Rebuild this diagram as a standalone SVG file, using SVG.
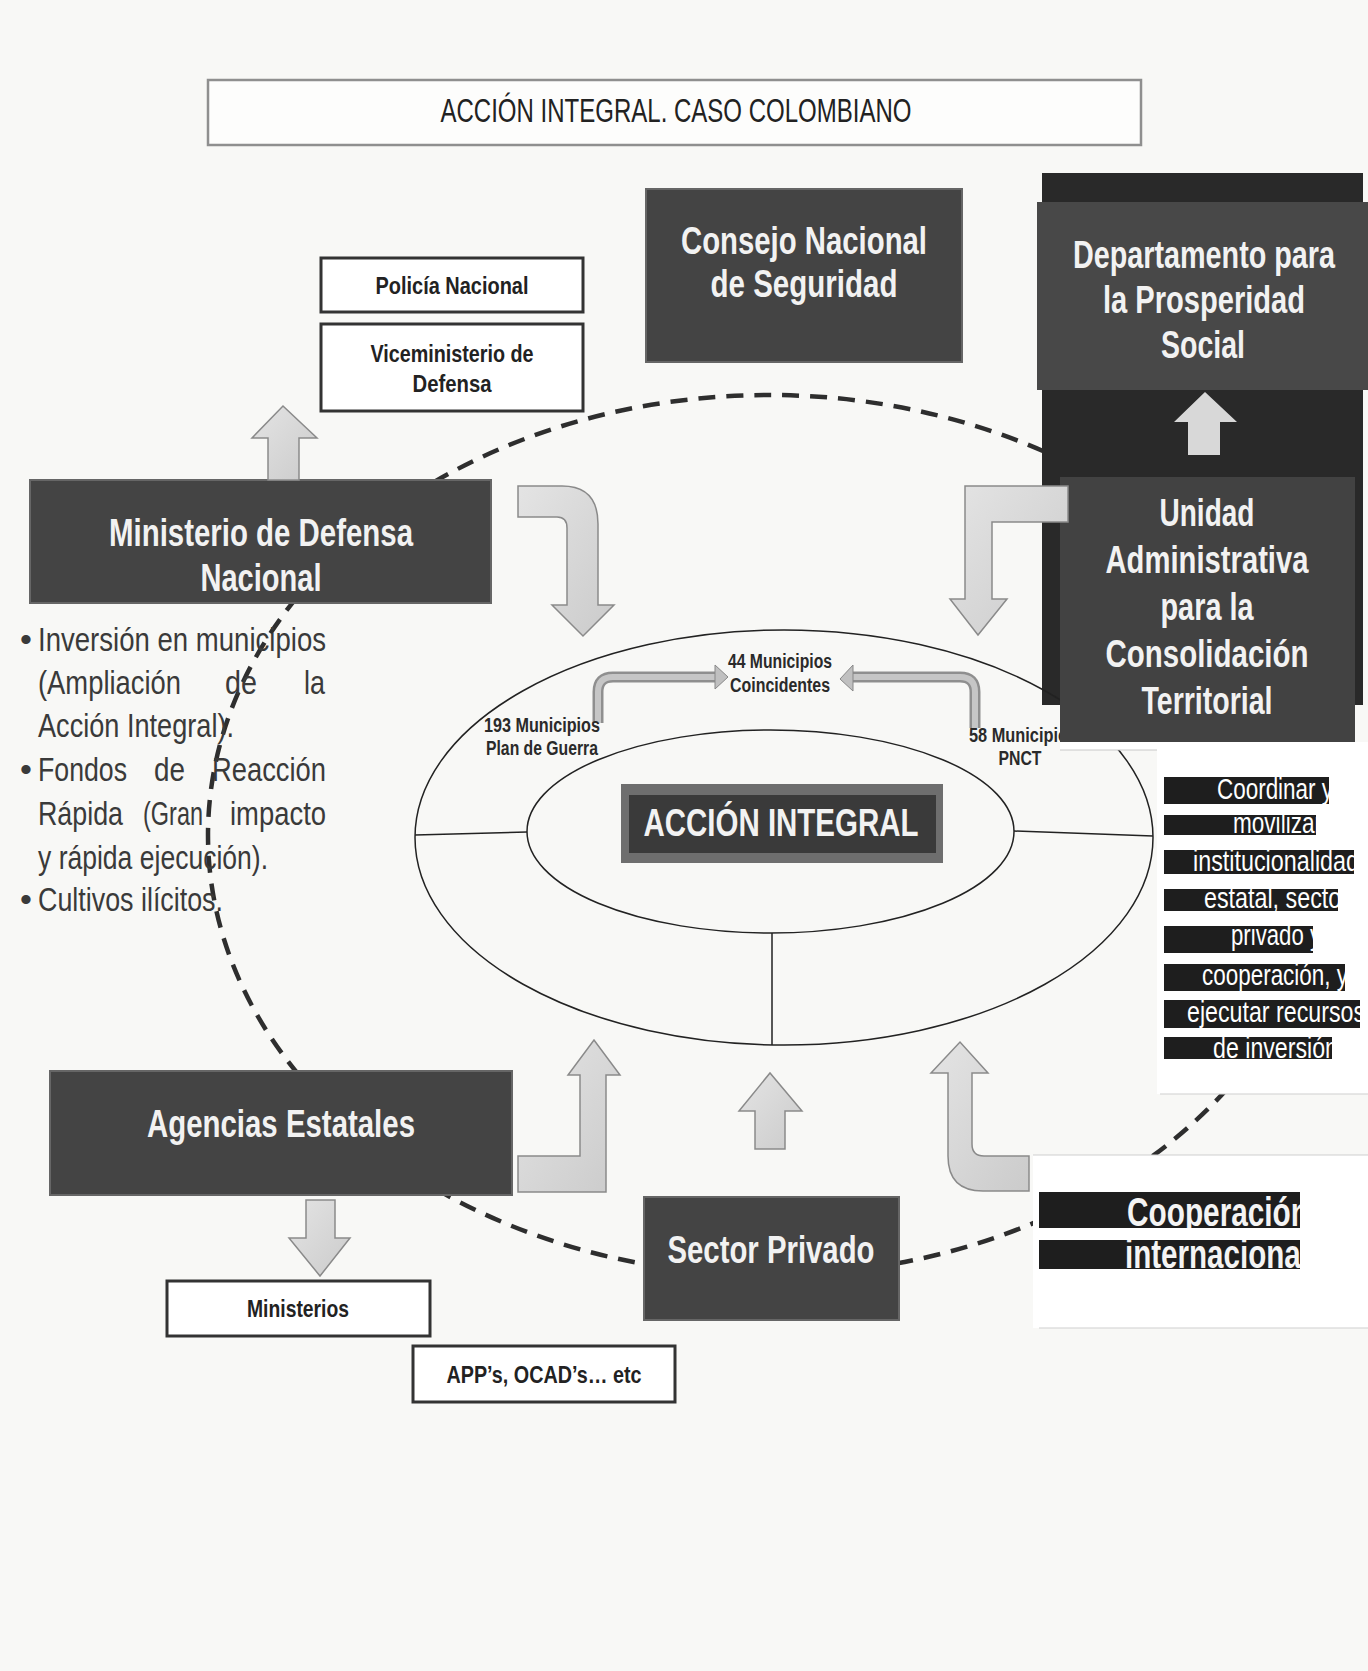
<svg xmlns="http://www.w3.org/2000/svg" width="1368" height="1671" viewBox="0 0 1368 1671">
<defs>
<style>
.f{font-family:"Liberation Sans Narrow","Liberation Sans",Arial,sans-serif}
.big{font-weight:bold;font-size:38px;fill:#f2f2f2;text-anchor:middle}
.lbl{font-weight:bold;font-size:24px;fill:#222;text-anchor:middle}
.sm{font-weight:bold;font-size:20px;fill:#2a2a2a;text-anchor:middle}
.body{font-size:34px;fill:#3a3a3a}
.wt{font-size:30px;fill:#ffffff}
.co{font-weight:bold;font-size:40px;fill:#f4f4f4}
.dk{fill:#444444;stroke:#666;stroke-width:2}
.wbox{fill:#ffffff;stroke:#333;stroke-width:3}
.ba{fill:url(#ag);stroke:#8a8a8a;stroke-width:1.5}
.bar{fill:#1e1e1e}
.thin{fill:none;stroke:#222;stroke-width:1.5}
</style>
<linearGradient id="ag" x1="0" y1="0" x2="1" y2="1">
<stop offset="0" stop-color="#e4e4e4"/>
<stop offset="1" stop-color="#cbcbcb"/>
</linearGradient>
<clipPath id="c1"><rect x="1164" y="777" width="165" height="27"/></clipPath>
<clipPath id="c2"><rect x="1164" y="815" width="152" height="20"/></clipPath>
<clipPath id="c3"><rect x="1164" y="850" width="190" height="24"/></clipPath>
<clipPath id="c4"><rect x="1164" y="889" width="174" height="22"/></clipPath>
<clipPath id="c5"><rect x="1164" y="926" width="149" height="27"/></clipPath>
<clipPath id="c6"><rect x="1164" y="964" width="181" height="27"/></clipPath>
<clipPath id="c7"><rect x="1164" y="1000" width="196" height="28"/></clipPath>
<clipPath id="c8"><rect x="1164" y="1037" width="168" height="22"/></clipPath>
<clipPath id="k1"><rect x="1039" y="1192" width="261" height="36"/></clipPath>
<clipPath id="k2"><rect x="1039" y="1240" width="261" height="29"/></clipPath>
</defs>

<rect x="0" y="0" width="1368" height="1671" fill="#f8f8f6"/>

<g id="connectors">
<ellipse id="loop" cx="769" cy="835" rx="561" ry="440" fill="none" stroke="#2e2e2e" stroke-width="4.5" stroke-dasharray="17 11"/>
</g>

<g id="dps-frame">
<rect x="1042" y="173" width="321" height="532" fill="#292929"/>
</g>

<g id="accion-integral">
<ellipse cx="784" cy="837.5" rx="369" ry="207.5" class="thin"/>
<ellipse cx="770.5" cy="831.5" rx="243.5" ry="101.5" class="thin"/>
<line x1="415" y1="835" x2="527" y2="832" class="thin"/>
<line x1="1014" y1="831" x2="1153" y2="836" class="thin"/>
<line x1="772" y1="933" x2="772" y2="1045" class="thin"/>
<rect x="621" y="784" width="322" height="79" fill="#6e6e6e"/>
<rect x="629" y="795" width="307" height="58" fill="#3a3a3a"/>
<text class="f big" x="781" y="836" textLength="275" lengthAdjust="spacingAndGlyphs">ACCIÓN INTEGRAL</text>
</g>

<g id="tubes">
<path d="M598,723 V692 Q598,677 613,677 H718" fill="none" stroke="#8f8f8f" stroke-width="11"/>
<path d="M598,723 V692 Q598,677 613,677 H718" fill="none" stroke="#c6c6c6" stroke-width="6"/>
<polygon points="715,665 728,677 715,689" fill="#c0c0c0" stroke="#888" stroke-width="1"/>
<path d="M975,728 V692 Q975,677 960,677 H852" fill="none" stroke="#8f8f8f" stroke-width="11"/>
<path d="M975,728 V692 Q975,677 960,677 H852" fill="none" stroke="#c6c6c6" stroke-width="6"/>
<polygon points="853,665 840,679 853,691" fill="#c0c0c0" stroke="#888" stroke-width="1"/>
</g>

<g id="lbl-44">
<text class="f sm" x="780" y="668" textLength="104" lengthAdjust="spacingAndGlyphs">44 Municipios</text>
<text class="f sm" x="780" y="692" textLength="100" lengthAdjust="spacingAndGlyphs">Coincidentes</text>
</g>
<g id="lbl-193">
<text class="f sm" x="542" y="732" textLength="116" lengthAdjust="spacingAndGlyphs">193 Municipios</text>
<text class="f sm" x="542" y="755" textLength="112" lengthAdjust="spacingAndGlyphs">Plan de Guerra</text>
</g>
<g id="lbl-58">
<text class="f sm" x="969" y="742" style="text-anchor:start" textLength="108" lengthAdjust="spacingAndGlyphs">58 Municipios</text>
<text class="f sm" x="1020" y="765" textLength="43" lengthAdjust="spacingAndGlyphs">PNCT</text>
</g>

<g id="title">
<rect x="208" y="80" width="933" height="65" fill="#fdfdfc" stroke="#8f8f8f" stroke-width="2.5"/>
<text class="f" x="676" y="122" font-size="33" fill="#222" text-anchor="middle" textLength="471" lengthAdjust="spacingAndGlyphs">ACCIÓN INTEGRAL. CASO COLOMBIANO</text>
</g>

<g id="consejo">
<rect x="646" y="189" width="316" height="173" class="dk"/>
<text class="f big" x="804" y="254" textLength="246" lengthAdjust="spacingAndGlyphs">Consejo Nacional</text>
<text class="f big" x="804" y="297" textLength="187" lengthAdjust="spacingAndGlyphs">de Seguridad</text>
</g>

<g id="dps">
<rect x="1037" y="202" width="331" height="188" fill="#484848"/>
<text class="f big" x="1204" y="268" textLength="262" lengthAdjust="spacingAndGlyphs">Departamento para</text>
<text class="f big" x="1204" y="313" textLength="202" lengthAdjust="spacingAndGlyphs">la Prosperidad</text>
<text class="f big" x="1203" y="358" textLength="84" lengthAdjust="spacingAndGlyphs">Social</text>
</g>

<g id="unidad">
<rect x="1060" y="477" width="295" height="265" fill="#424242"/>
<text class="f big" x="1207" y="526" textLength="95" lengthAdjust="spacingAndGlyphs">Unidad</text>
<text class="f big" x="1207" y="573" textLength="203" lengthAdjust="spacingAndGlyphs">Administrativa</text>
<text class="f big" x="1207" y="620" textLength="93" lengthAdjust="spacingAndGlyphs">para la</text>
<text class="f big" x="1207" y="667" textLength="203" lengthAdjust="spacingAndGlyphs">Consolidación</text>
<text class="f big" x="1207" y="714" textLength="131" lengthAdjust="spacingAndGlyphs">Territorial</text>
</g>

<g id="policia">
<rect x="321" y="258" width="262" height="54" class="wbox"/>
<text class="f lbl" x="452" y="294" textLength="153" lengthAdjust="spacingAndGlyphs">Policía Nacional</text>
</g>

<g id="viceministerio">
<rect x="321" y="324" width="262" height="87" class="wbox"/>
<text class="f lbl" x="452" y="362" textLength="163" lengthAdjust="spacingAndGlyphs">Viceministerio de</text>
<text class="f lbl" x="452" y="392" textLength="79" lengthAdjust="spacingAndGlyphs">Defensa</text>
</g>

<g id="ministerio-defensa">
<rect x="30" y="480" width="461" height="123" class="dk"/>
<text class="f big" x="261" y="546" textLength="304" lengthAdjust="spacingAndGlyphs">Ministerio de Defensa</text>
<text class="f big" x="261" y="591" textLength="121" lengthAdjust="spacingAndGlyphs">Nacional</text>
</g>

<g id="bullets">
<text class="f body" x="20" y="651">•</text>
<text class="f body" x="38" y="651" textLength="288" lengthAdjust="spacingAndGlyphs">Inversión en municipios</text>
<text class="f body" x="38" y="694" textLength="143" lengthAdjust="spacingAndGlyphs">(Ampliación</text>
<text class="f body" x="225" y="694" textLength="32" lengthAdjust="spacingAndGlyphs">de</text>
<text class="f body" x="304" y="694" textLength="21" lengthAdjust="spacingAndGlyphs">la</text>
<text class="f body" x="38" y="737" textLength="196" lengthAdjust="spacingAndGlyphs">Acción Integral).</text>
<text class="f body" x="20" y="781">•</text>
<text class="f body" x="38" y="781" textLength="89" lengthAdjust="spacingAndGlyphs">Fondos</text>
<text class="f body" x="154" y="781" textLength="31" lengthAdjust="spacingAndGlyphs">de</text>
<text class="f body" x="212" y="781" textLength="114" lengthAdjust="spacingAndGlyphs">Reacción</text>
<text class="f body" x="38" y="825" textLength="85" lengthAdjust="spacingAndGlyphs">Rápida</text>
<text class="f body" x="143" y="825" textLength="60" lengthAdjust="spacingAndGlyphs">(Gran</text>
<text class="f body" x="230" y="825" textLength="96" lengthAdjust="spacingAndGlyphs">impacto</text>
<text class="f body" x="38" y="869" textLength="230" lengthAdjust="spacingAndGlyphs">y rápida ejecución).</text>
<text class="f body" x="20" y="911">•</text>
<text class="f body" x="38" y="911" textLength="185" lengthAdjust="spacingAndGlyphs">Cultivos ilícitos.</text>
</g>

<g id="agencias">
<rect x="50" y="1071" width="462" height="124" class="dk"/>
<text class="f big" x="281" y="1137" textLength="268" lengthAdjust="spacingAndGlyphs">Agencias Estatales</text>
</g>

<g id="ministerios">
<rect x="167" y="1281" width="263" height="55" class="wbox"/>
<text class="f lbl" x="298" y="1317" textLength="102" lengthAdjust="spacingAndGlyphs">Ministerios</text>
</g>

<g id="app">
<rect x="413" y="1346" width="262" height="56" class="wbox"/>
<text class="f lbl" x="544" y="1383" textLength="195" lengthAdjust="spacingAndGlyphs">APP’s, OCAD’s… etc</text>
</g>

<g id="sector-privado">
<rect x="644" y="1197" width="255" height="123" class="dk"/>
<text class="f big" x="771" y="1263" textLength="207" lengthAdjust="spacingAndGlyphs">Sector Privado</text>
</g>

<g id="coordinar">
<rect x="1060" y="742" width="308" height="8" fill="#ffffff"/>
<rect x="1157" y="742" width="211" height="352" fill="#ffffff"/>
<line x1="1060" y1="750" x2="1157" y2="750" stroke="#c8c8c8" stroke-width="1"/>
<line x1="1160" y1="1094" x2="1368" y2="1094" stroke="#cfcfcf" stroke-width="1"/>
<rect class="bar" x="1164" y="777" width="165" height="27"/>
<rect class="bar" x="1164" y="815" width="152" height="20"/>
<rect class="bar" x="1164" y="850" width="190" height="24"/>
<rect class="bar" x="1164" y="889" width="174" height="22"/>
<rect class="bar" x="1164" y="926" width="149" height="27"/>
<rect class="bar" x="1164" y="964" width="181" height="27"/>
<rect class="bar" x="1164" y="1000" width="196" height="28"/>
<rect class="bar" x="1164" y="1037" width="168" height="22"/>
<text class="f wt" x="1217" y="799" clip-path="url(#c1)" textLength="116" lengthAdjust="spacingAndGlyphs">Coordinar y</text>
<text class="f wt" x="1233" y="833" clip-path="url(#c2)" textLength="89" lengthAdjust="spacingAndGlyphs">movilizar</text>
<text class="f wt" x="1193" y="871" clip-path="url(#c3)" textLength="166" lengthAdjust="spacingAndGlyphs">institucionalidad</text>
<text class="f wt" x="1204" y="908" clip-path="url(#c4)" textLength="145" lengthAdjust="spacingAndGlyphs">estatal, sector</text>
<text class="f wt" x="1231" y="945" clip-path="url(#c5)" textLength="90" lengthAdjust="spacingAndGlyphs">privado y</text>
<text class="f wt" x="1202" y="985" clip-path="url(#c6)" textLength="146" lengthAdjust="spacingAndGlyphs">cooperación, y</text>
<text class="f wt" x="1187" y="1022" clip-path="url(#c7)" textLength="178" lengthAdjust="spacingAndGlyphs">ejecutar recursos</text>
<text class="f wt" x="1213" y="1058" clip-path="url(#c8)" textLength="125" lengthAdjust="spacingAndGlyphs">de inversión</text>
</g>

<g id="cooperacion">
<rect x="1033" y="1155" width="335" height="173" fill="#ffffff"/>
<line x1="1033" y1="1155" x2="1368" y2="1155" stroke="#cfcfcf" stroke-width="1"/>
<line x1="1039" y1="1328" x2="1368" y2="1328" stroke="#cfcfcf" stroke-width="1"/>
<rect class="bar" x="1039" y="1192" width="261" height="36"/>
<rect class="bar" x="1039" y="1240" width="261" height="29"/>
<text class="f co" x="1127" y="1226" clip-path="url(#k1)" textLength="182" lengthAdjust="spacingAndGlyphs">Cooperación</text>
<text class="f co" x="1125" y="1268" clip-path="url(#k2)" textLength="184" lengthAdjust="spacingAndGlyphs">internacional</text>
</g>

<g id="arrows">
<path class="ba" d="M268,480 V438 H252 L283,406 L317,438 H299 V480 Z"/>
<path class="ba" d="M518,486 H562 Q598,486 598,524 V605 H614 L583,636 L552,605 H567 V528 Q567,517 557,517 H518 Z"/>
<path class="ba" d="M1068,486 H965 V599 H950 L978,635 L1007,599 H992 V522 H1068 Z"/>
<path d="M1188,455 V422 H1174 L1205,392 L1237,422 H1220 V455 Z" fill="#d8d8d8"/>
<path class="ba" d="M518,1156 H580 V1075 H568 L594,1040 L620,1075 H606 V1192 H518 Z"/>
<path class="ba" d="M755,1149 V1111 H739 L770,1073 L802,1111 H785 V1149 Z"/>
<path class="ba" d="M1029,1156 H984 Q972,1156 972,1144 V1073 H988 L960,1042 L931,1073 H948 V1156 Q948,1191 983,1191 H1029 Z"/>
<path class="ba" d="M306,1200 H335 V1238 H350 L320,1276 L289,1238 H306 Z"/>
</g>
</svg>
